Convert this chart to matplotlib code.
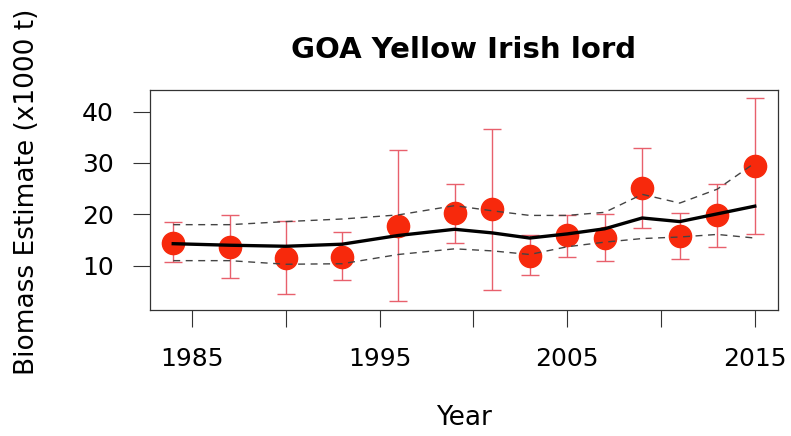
import numpy as np
import matplotlib
matplotlib.use("Agg")
import matplotlib.pyplot as plt

plt.rcParams['font.family'] = ['DejaVu Sans']

# survey estimates (x1000 t)
years = [1984, 1987, 1990, 1993, 1996, 1999, 2001, 2003, 2005, 2007, 2009, 2011, 2013, 2015]
biomass = [14.4, 13.7, 11.6, 11.7, 17.8, 20.2, 21.0, 12.0, 15.9, 15.4, 25.2, 15.7, 19.9, 29.5]
upper_ci = [18.5, 19.8, 18.8, 16.6, 32.5, 26.0, 36.6, 15.9, 19.9, 20.1, 32.9, 20.3, 26.0, 42.6]
lower_ci = [10.8, 7.6, 4.5, 7.2, 3.2, 14.4, 5.3, 8.2, 11.7, 11.0, 17.4, 11.4, 13.7, 16.2]

# smoothed fit and its interval
fit = [14.3, 14.0, 13.8, 14.2, 15.9, 17.1, 16.4, 15.4, 16.2, 17.2, 19.3, 18.6, 20.1, 21.6]
fit_hi = [18.0, 18.0, 18.6, 19.1, 19.9, 21.7, 20.7, 19.8, 19.8, 20.4, 23.9, 22.2, 24.9, 30.0]
fit_lo = [11.0, 11.0, 10.3, 10.4, 12.2, 13.3, 12.9, 12.2, 13.7, 14.6, 15.3, 15.6, 16.1, 15.4]

x_ticks = [1985, 1990, 1995, 2000, 2005, 2010, 2015]
x_labels = ['1985', '', '1995', '', '2005', '', '2015']
y_ticks = [10, 20, 30, 40]

fig = plt.figure(figsize=(7.91, 4.36), dpi=100)
ax = fig.add_axes([0.1896, 0.289, 0.794, 0.5046])

b = np.array(biomass)
err = [b - np.array(lower_ci), np.array(upper_ci) - b]
ax.errorbar(years, biomass, yerr=err, fmt='none', ecolor='#e8606c',
            elinewidth=1.0, capsize=6.5, capthick=1.0, zorder=2)
ax.plot(years, biomass, 'o', color='#f7290c', markersize=16, zorder=3)
ax.plot(years, fit, color='black', linewidth=2.4, zorder=4)
ax.plot(years, fit_hi, color='#444444', linewidth=1.0, dashes=(5, 4), zorder=4)
ax.plot(years, fit_lo, color='#444444', linewidth=1.0, dashes=(5, 4), zorder=4)

ax.set_xlim(1982.76, 2016.24)
ax.set_ylim(1.4, 44.2)
ax.set_xticks(x_ticks)
ax.set_xticklabels(x_labels)
ax.set_yticks(y_ticks)
ax.tick_params(axis='both', length=12, width=0.8, color='#333333', labelsize=18)
ax.tick_params(axis='x', pad=15)
ax.tick_params(axis='y', pad=14)
for s in ax.spines.values():
    s.set_color('#333333')
    s.set_linewidth(0.9)

ax.set_title('GOA Yellow Irish lord', fontsize=21, fontweight='bold', pad=23)
ax.set_xlabel('Year', fontsize=19, labelpad=24)
ax.set_ylabel('Biomass Estimate (x1000 t)', fontsize=19)
ax.yaxis.set_label_coords(-0.175, 0.536)

fig.savefig('out.png', dpi=100)
